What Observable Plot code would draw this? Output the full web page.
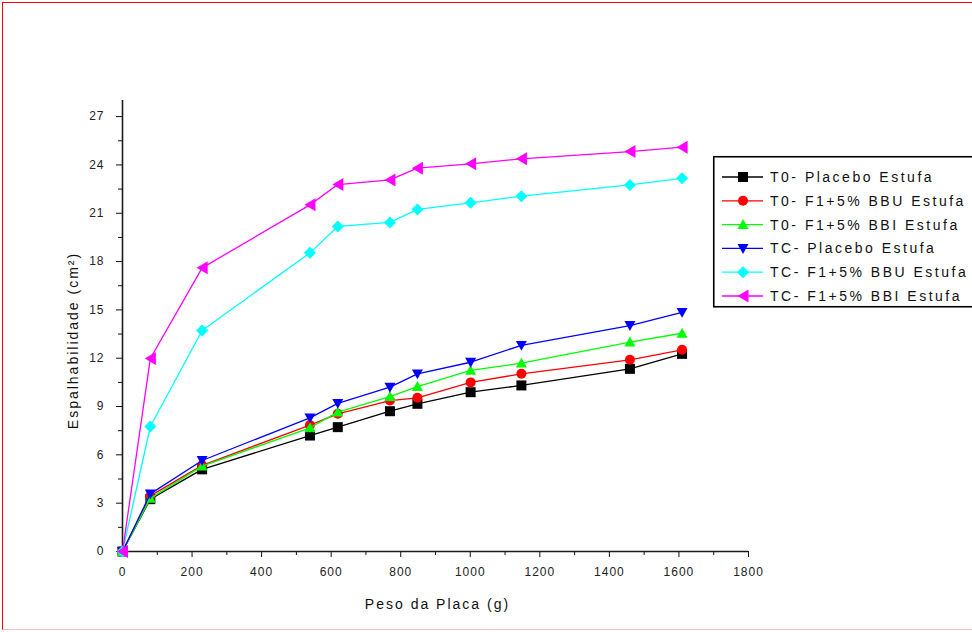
<!DOCTYPE html>
<html><head><meta charset="utf-8">
<script src="https://cdn.jsdelivr.net/npm/d3@7"></script>
<script src="https://cdn.jsdelivr.net/npm/@observablehq/plot@0.6"></script>
<style>
html,body{margin:0;padding:0;background:#fff;overflow:hidden;}
#wrap{position:relative;width:972px;height:632px;overflow:hidden;font-family:"Liberation Sans",Arial,sans-serif;}
#frame{position:absolute;left:2px;top:2px;width:990px;height:626px;border:1.5px solid #f00;border-bottom:1.5px solid #f6c4c4;pointer-events:none;}
#legend{position:absolute;left:713px;top:156px;overflow:visible;}
</style></head><body>
<div id="wrap"><div id="chart"></div><svg id="legend"></svg><div id="frame"></div></div>
<script>
// ---- data ----
const weights = [0, 80, 229, 539, 619, 769, 848, 1001, 1147, 1459, 1609];
const seriesNames = ["T0- Placebo Estufa", "T0- F1+5% BBU Estufa", "T0- F1+5% BBI Estufa",
  "TC- Placebo Estufa", "TC- F1+5% BBU Estufa", "TC- F1+5% BBI Estufa"];
const t0Placebo = [0, 3.25, 5.10, 7.20, 7.72, 8.71, 9.17, 9.89, 10.31, 11.34, 12.27];
const t0BBU     = [0, 3.45, 5.35, 7.85, 8.55, 9.37, 9.54, 10.50, 11.03, 11.90, 12.52];
const t0BBI     = [0, 3.30, 5.30, 7.68, 8.65, 9.62, 10.24, 11.24, 11.69, 13.00, 13.55];
const tcPlacebo = [0, 3.58, 5.65, 8.30, 9.20, 10.20, 11.03, 11.75, 12.80, 14.03, 14.85];
const tcBBU     = [0, 7.76, 13.72, 18.54, 20.18, 20.43, 21.24, 21.65, 22.06, 22.76, 23.17];
const tcBBI     = [0, 11.98, 17.61, 21.52, 22.78, 23.07, 23.80, 24.07, 24.38, 24.83, 25.10];
const xMajorTicks = d3.range(0, 1801, 200);
const xMinorTicks = d3.range(100, 1800, 200);
const yMajorTicks = d3.range(0, 28, 3);
const yMinorTicks = d3.range(1.5, 28, 3);
const colors = ["#000000", "#ff0000", "#00ff00", "#0000ff", "#00ffff", "#ff00ff"];

// ---- symbols (size = pi r^2) ----
const rad = size => Math.sqrt(size / Math.PI);
function poly(ctx, pts){ ctx.moveTo(pts[0][0], pts[0][1]); for (let i = 1; i < pts.length; i++) ctx.lineTo(pts[i][0], pts[i][1]); ctx.closePath(); }
const symSquare = {draw(ctx, size){ const r = rad(size); ctx.rect(-r, -r, 2*r, 2*r); }};
const symCircle = {draw(ctx, size){ const r = rad(size); ctx.moveTo(r, 0); ctx.arc(0, 0, r, 0, 2*Math.PI); }};
const symTriUp = {draw(ctx, size){ const r = rad(size); poly(ctx, [[0, -r], [r, 0.8*r], [-r, 0.8*r]]); }};
const symTriDown = {draw(ctx, size){ const r = rad(size); poly(ctx, [[0, r], [r, -0.8*r], [-r, -0.8*r]]); }};
const symDiamond = {draw(ctx, size){ const r = rad(size); poly(ctx, [[0, -r], [r, 0], [0, r], [-r, 0]]); }};
const symTriLeft = {draw(ctx, size){ const r = rad(size); poly(ctx, [[-0.85*r, 0], [0.85*r, -r], [0.85*r, r]]); }};
const symbols = [symSquare, symCircle, symTriUp, symTriDown, symDiamond, symTriLeft];
const radii = [5, 5, 5.5, 5.5, 6, 6.5];

const seriesValues = [t0Placebo, t0BBU, t0BBI, tcPlacebo, tcBBU, tcBBI];
const series = seriesNames.map((name, i) => ({
  name, color: colors[i], symbol: symbols[i], r: radii[i],
  data: weights.map((w, j) => ({x: w, y: seriesValues[i][j]}))
}));

const font = '"Liberation Sans", Arial, sans-serif';
const plot = Plot.plot({
  width: 972, height: 632,
  marginLeft: 122, marginRight: 224, marginTop: 100, marginBottom: 81,
  x: {domain: [0, 1800]},
  y: {domain: [0, 28]},
  style: {fontFamily: font, color: "#000", background: "transparent"},
  marks: [
    Plot.axisX({ticks: xMajorTicks, tickFormat: d => String(d), tickSize: 6, tickPadding: 10, fontSize: 12, label: null, stroke: "#111", fill: "#222"}),
    Plot.axisX({ticks: xMinorTicks, tickSize: 4, tickFormat: () => "", label: null, stroke: "#111"}),
    Plot.axisY({ticks: yMajorTicks, tickFormat: d => String(d), tickSize: 6, tickPadding: 12, fontSize: 12, label: null, stroke: "#111", fill: "#222"}),
    Plot.axisY({ticks: yMinorTicks, tickSize: 4, tickFormat: () => "", label: null, stroke: "#111"}),
    Plot.ruleY([0], {stroke: "#1a1a1a", strokeWidth: 1.6}),
    Plot.ruleX([0], {stroke: "#1a1a1a", strokeWidth: 1.6}),
    ...series.flatMap(s => [
      Plot.line(s.data, {x: "x", y: "y", stroke: s.color, strokeWidth: 1.3}),
      Plot.dot(s.data, {x: "x", y: "y", fill: s.color, symbol: s.symbol, r: s.r})
    ]),
    Plot.text(["Peso da Placa (g)"], {text: d => d, frameAnchor: "bottom", dx: 2, dy: 53, fontSize: 14, lineAnchor: "middle", fill: "#111"}),
    Plot.text(["Espalhabilidade (cm²)"], {text: d => d, frameAnchor: "left", textAnchor: "middle", rotate: -90, dx: -49, dy: 14.5, fontSize: 14, lineAnchor: "middle", fill: "#111"})
  ]
});
document.getElementById("chart").appendChild(plot);
d3.select(plot).selectAll("text").style("letter-spacing", function(){
  return this.parentNode && this.parentNode.getAttribute("aria-label") === "text" ? "2px" : "1px";
});

// ---- legend ----
const lg = d3.select("#legend").attr("width", 262).attr("height", 156);
lg.append("rect").attr("x", 0.75).attr("y", 0.75).attr("width", 275).attr("height", 150)
  .attr("fill", "#fff").attr("stroke", "#000").attr("stroke-width", 1.6);
series.forEach((s, i) => {
  const cy = 21 + i * 23.8;
  const g = lg.append("g").attr("transform", `translate(0,${cy})`);
  g.append("line").attr("x1", 9).attr("x2", 50).attr("y1", 0).attr("y2", 0).attr("stroke", s.color).attr("stroke-width", 1.3);
  g.append("path").attr("transform", "translate(30,0)").attr("d", d3.symbol(s.symbol, Math.PI * s.r * s.r)()).attr("fill", s.color);
  g.append("text").attr("x", 57).attr("y", 0).attr("dy", "0.36em").attr("font-family", font).attr("font-size", 14)
    .style("letter-spacing", "2.5px").attr("fill", "#111").text(s.name);
});
</script>
</body></html>
